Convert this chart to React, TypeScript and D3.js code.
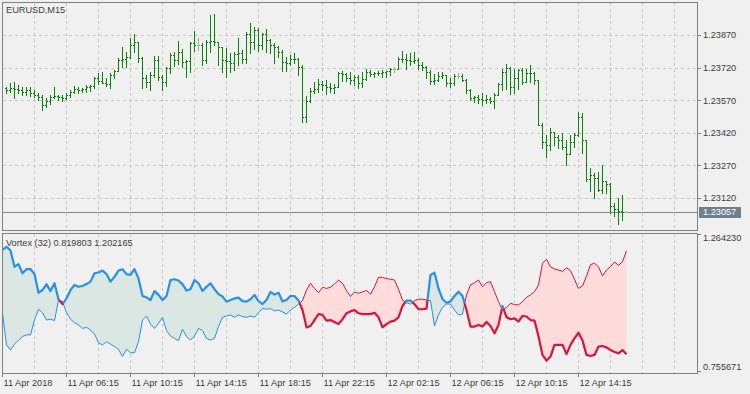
import * as d3 from 'd3';
import React from 'react';

const SYMBOL = 'EURUSD,M15';
const VORTEX_PERIOD = 32;

// bars start at slot 1 (slot 0 sits under the frame); open = previous close
const FIRST_OPEN = 1.23625;
const HIGH = [
  1.23629, 1.23651, 1.23655, 1.2364, 1.23629, 1.23632, 1.23629, 1.23617, 1.23602, 1.23594,
  1.23579, 1.23594, 1.23629, 1.23594, 1.23594, 1.23602, 1.23617, 1.23635, 1.23629, 1.23625,
  1.2364, 1.2364, 1.23678, 1.23697, 1.23701, 1.23671, 1.23694, 1.23709, 1.23763, 1.23813,
  1.23793, 1.23855, 1.23875, 1.23839, 1.23767, 1.23686, 1.23701, 1.23773, 1.23773, 1.23686,
  1.23724, 1.23786, 1.23793, 1.23844, 1.23804, 1.23755, 1.23839, 1.2389, 1.23855, 1.23835,
  1.23847, 1.23962, 1.23967, 1.23839, 1.23813, 1.23809, 1.23786, 1.23793, 1.23855, 1.23801,
  1.23885, 1.23927, 1.23908, 1.23901, 1.23881, 1.23896, 1.2385, 1.23835, 1.23819, 1.23801,
  1.2377, 1.23778, 1.23786, 1.23763, 1.23732, 1.23589, 1.23625, 1.23655, 1.23666, 1.2366,
  1.23663, 1.23648, 1.23645, 1.23701, 1.23706, 1.23694, 1.23701, 1.23686, 1.23686, 1.23701,
  1.23712, 1.23709, 1.23701, 1.23706, 1.23709, 1.23706, 1.23717, 1.23721, 1.2377, 1.23798,
  1.23783, 1.23789, 1.23793, 1.23763, 1.23747, 1.23727, 1.23709, 1.23691, 1.23701, 1.23701,
  1.23686, 1.23671, 1.23691, 1.23694, 1.23691, 1.23666, 1.2362, 1.23589, 1.23594, 1.23605,
  1.23594, 1.23583, 1.23605, 1.23651, 1.23712, 1.23737, 1.23721, 1.23712, 1.23712, 1.23717,
  1.23712, 1.23732, 1.23701, 1.23663, 1.23464, 1.2341, 1.23441, 1.23425, 1.2341, 1.23421,
  1.23387, 1.2341, 1.23421, 1.23517, 1.23513, 1.23387, 1.23257, 1.23234, 1.23241, 1.23272,
  1.23196, 1.23188, 1.23096, 1.23119, 1.23134, 1.23059,
];
const LOW = [
  1.23605, 1.23609, 1.23579, 1.23602, 1.23594, 1.23594, 1.23589, 1.23583, 1.23571, 1.23525,
  1.2354, 1.23553, 1.23579, 1.23571, 1.23568, 1.23574, 1.23583, 1.23605, 1.23602, 1.23609,
  1.23609, 1.23614, 1.23625, 1.23645, 1.23648, 1.23635, 1.23625, 1.23671, 1.23706, 1.23724,
  1.23724, 1.23763, 1.23793, 1.23747, 1.23625, 1.23632, 1.23617, 1.23678, 1.23663, 1.23617,
  1.23635, 1.23694, 1.23727, 1.23737, 1.23724, 1.23678, 1.23701, 1.23798, 1.23801, 1.23732,
  1.2374, 1.23793, 1.23824, 1.23732, 1.23701, 1.23678, 1.23701, 1.23709, 1.23732, 1.2374,
  1.23743, 1.23789, 1.23804, 1.23798, 1.23804, 1.23793, 1.23786, 1.23743, 1.2377, 1.23706,
  1.23706, 1.23732, 1.2374, 1.23686, 1.23471, 1.23471, 1.23563, 1.23602, 1.23609, 1.23617,
  1.23599, 1.23609, 1.23602, 1.23632, 1.2366, 1.2366, 1.23645, 1.2364, 1.23625, 1.23629,
  1.23663, 1.23681, 1.23678, 1.23686, 1.23678, 1.23678, 1.23686, 1.23701, 1.23712, 1.23747,
  1.23712, 1.23732, 1.2374, 1.23712, 1.23709, 1.23671, 1.23645, 1.23645, 1.2366, 1.23671,
  1.23635, 1.23632, 1.2364, 1.23671, 1.2366, 1.23602, 1.23571, 1.23563, 1.23559, 1.23548,
  1.23556, 1.23556, 1.23533, 1.23594, 1.23617, 1.2362, 1.23599, 1.23602, 1.2362, 1.23645,
  1.23655, 1.23655, 1.23645, 1.23456, 1.23349, 1.2331, 1.23341, 1.23364, 1.23349, 1.23344,
  1.23272, 1.23323, 1.23353, 1.23406, 1.23326, 1.232, 1.2315, 1.23119, 1.2315, 1.23145,
  1.23145, 1.23053, 1.23035, 1.23001, 1.23019, 1.23057,
];
const CLOSE = [
  1.23617, 1.23625, 1.2362, 1.23617, 1.23609, 1.23617, 1.23605, 1.23594, 1.23583, 1.23548,
  1.23568, 1.23583, 1.23589, 1.23583, 1.23579, 1.23594, 1.23609, 1.2362, 1.23617, 1.2362,
  1.23629, 1.23635, 1.23671, 1.2366, 1.23648, 1.23645, 1.23686, 1.23706, 1.23755, 1.23758,
  1.2377, 1.23824, 1.23839, 1.23763, 1.23671, 1.23655, 1.23686, 1.23755, 1.23678, 1.23655,
  1.23717, 1.23778, 1.23755, 1.23793, 1.23747, 1.2375, 1.23832, 1.23824, 1.23824, 1.23755,
  1.23839, 1.23843, 1.23836, 1.23813, 1.23755, 1.23752, 1.2374, 1.23783, 1.23786, 1.23758,
  1.23875, 1.23839, 1.23893, 1.23824, 1.23875, 1.23847, 1.23824, 1.23816, 1.23793, 1.23747,
  1.23743, 1.23758, 1.23761, 1.23724, 1.23494, 1.23568, 1.23614, 1.2362, 1.23645, 1.2364,
  1.23629, 1.23625, 1.23632, 1.23694, 1.23691, 1.23671, 1.23663, 1.23678, 1.23648, 1.23666,
  1.23701, 1.23691, 1.23697, 1.23694, 1.23701, 1.23704, 1.23712, 1.23712, 1.23758, 1.23761,
  1.23755, 1.23752, 1.23755, 1.23732, 1.23724, 1.23701, 1.2366, 1.23663, 1.23681, 1.23686,
  1.23651, 1.23648, 1.23683, 1.23683, 1.23663, 1.23617, 1.23579, 1.23583, 1.23574, 1.23571,
  1.23574, 1.23568, 1.23594, 1.23645, 1.23701, 1.23717, 1.23629, 1.23671, 1.23709, 1.23655,
  1.23694, 1.23697, 1.23663, 1.23456, 1.23379, 1.23364, 1.23425, 1.23402, 1.23387, 1.23353,
  1.23323, 1.23379, 1.2341, 1.23491, 1.23387, 1.23206, 1.23226, 1.23211, 1.23157, 1.232,
  1.23185, 1.23081, 1.23068, 1.23058, 1.23057, 1.23057,
];

// Vortex values, slot 0 .. 156
const VI_PLUS = [
  1.205, 1.217, 1.203, 1.143, 1.153, 1.119, 1.134, 1.134, 1.116, 1.047,
  1.057, 1.079, 1.053, 1.082, 1.023, 1.005, 1.026, 1.057, 1.076, 1.069,
  1.072, 1.079, 1.088, 1.119, 1.122, 1.129, 1.116, 1.088, 1.106, 1.129,
  1.134, 1.116, 1.113, 1.134, 1.1, 1.035, 1.03, 1.02, 1.053, 1.039,
  1.02, 1.035, 1.094, 1.097, 1.092, 1.079, 1.055, 1.06, 1.094, 1.082,
  1.053, 1.069, 1.082, 1.06, 1.042, 1.033, 1.014, 1.02, 1.026, 1.029,
  1.016, 1.014, 1.023, 1.039, 1.016, 1.005, 1.02, 1.05, 1.04, 1.047,
  1.015, 1.02, 1.035, 1.035, 1.018, 0.983, 0.919, 0.924, 0.946, 0.968,
  0.965, 0.944, 0.946, 0.939, 0.931, 0.949, 0.971, 0.978, 0.983, 0.971,
  0.968, 0.968, 0.968, 0.973, 0.956, 0.919, 0.931, 0.94, 0.944, 0.956,
  0.998, 1.018, 1.018, 1.005, 0.986, 0.986, 0.988, 1.113, 1.121, 1.063,
  1.023, 1.01, 1.015, 1.035, 1.051, 1.035, 0.983, 0.922, 0.922, 0.928,
  0.922, 0.939, 0.924, 0.897, 0.928, 0.998, 0.956, 0.949, 0.952, 0.94,
  0.961, 0.959, 0.946, 0.944, 0.885, 0.817, 0.796, 0.811, 0.854, 0.854,
  0.854, 0.82, 0.854, 0.878, 0.899, 0.87, 0.817, 0.813, 0.817, 0.848,
  0.85, 0.845, 0.835, 0.828, 0.823, 0.835, 0.819803,
];
const VI_MINUS = [
  0.971, 0.854, 0.835, 0.857, 0.872, 0.885, 0.891, 0.891, 0.946, 0.986,
  0.973, 0.946, 0.949, 0.944, 1.02, 1.014, 0.973, 0.949, 0.936, 0.928,
  0.915, 0.919, 0.909, 0.894, 0.862, 0.854, 0.866, 0.857, 0.848, 0.838,
  0.811, 0.838, 0.825, 0.825, 0.866, 0.946, 0.961, 0.931, 0.915, 0.934,
  0.956, 0.907, 0.887, 0.878, 0.87, 0.912, 0.885, 0.872, 0.887, 0.915,
  0.907, 0.878, 0.872, 0.878, 0.922, 0.956, 0.961, 0.965, 0.956, 0.965,
  0.959, 0.956, 0.961, 0.956, 0.973, 0.989, 0.986, 0.988, 0.98, 0.983,
  0.976, 0.968, 0.983, 0.993, 1.005, 1.018, 1.057, 1.082, 1.063, 1.047,
  1.067, 1.063, 1.067, 1.079, 1.094, 1.082, 1.055, 1.033, 1.05, 1.045,
  1.05, 1.055, 1.042, 1.069, 1.104, 1.104, 1.099, 1.097, 1.094, 1.06,
  1.02, 1.01, 1.005, 1.018, 1.023, 1.023, 1.02, 1.018, 0.924, 0.965,
  0.993, 1.005, 1.005, 0.983, 0.965, 0.968, 1.039, 1.076, 1.084, 1.094,
  1.069, 1.084, 1.088, 1.051, 1.014, 0.983, 0.993, 1.008, 1.003, 1.002,
  1.014, 1.03, 1.039, 1.051, 1.076, 1.156, 1.171, 1.143, 1.135, 1.131,
  1.126, 1.139, 1.129, 1.097, 1.063, 1.072, 1.109, 1.151, 1.156, 1.143,
  1.109, 1.131, 1.143, 1.161, 1.148, 1.162, 1.202165,
];

const PRICE_TICKS = [1.2387, 1.2372, 1.2357, 1.2342, 1.2327, 1.2312];
const LAST_PRICE = 1.23057;
const VI_MIN = 0.755671;
const VI_MAX = 1.26423;
const X_LABELS = [
  '11 Apr 2018', '11 Apr 06:15', '11 Apr 10:15', '11 Apr 14:15', '11 Apr 18:15',
  '11 Apr 22:15', '12 Apr 02:15', '12 Apr 06:15', '12 Apr 10:15', '12 Apr 14:15',
];

const W = 750;
const H = 394;
const LEFT = 2;
const RIGHT = 697;
const MAIN_TOP = 2;
const MAIN_BOTTOM = 230;
const IND_TOP = 233;
const IND_BOTTOM = 373;

const BG = '#f0f0f0';
const FRAME = '#808080';
const GRID = '#c6c6c6';
const TEXT = '#3c3c3c';
const BAR = '#0a840a';
const DOJI = '#a8a8a8';
const BULL = '#2a8fe6';
const BEAR = '#dc143c';
const BULL_FILL = '#dae7e2';
const BEAR_FILL = '#ffdcdc';
const FONT = '"Liberation Sans", Arial, sans-serif';
const FS = 9.2;

type VPoint = { x: number; a: number; b: number };

const App: React.FC = () => {
  const xScale = d3.scaleLinear().domain([0, 1]).range([LEFT, LEFT + 4]);
  const yPrice = d3.scaleLinear().domain([1.2312, 1.2387]).range([198, 35]);
  const yInd = d3.scaleLinear().domain([VI_MIN, VI_MAX]).range([371.5, 234]);

  const bars = CLOSE.map((c, k) => ({
    slot: k + 1,
    open: k === 0 ? FIRST_OPEN : CLOSE[k - 1],
    high: HIGH[k],
    low: LOW[k],
    close: c,
  }));

  // vortex points with crossing points inserted
  const pts: VPoint[] = [];
  VI_PLUS.forEach((a, i) => {
    const b = VI_MINUS[i];
    pts.push({ x: i, a, b });
    if (i < VI_PLUS.length - 1) {
      const a1 = VI_PLUS[i + 1];
      const b1 = VI_MINUS[i + 1];
      const d0 = a - b;
      const d1 = a1 - b1;
      if (d0 * d1 < 0) {
        const t = d0 / (d0 - d1);
        const v = a + t * (a1 - a);
        pts.push({ x: i + t, a: v, b: v });
      }
    }
  });

  // split into runs of one state
  const runs: { bull: boolean; pts: VPoint[] }[] = [];
  for (let k = 0; k < pts.length - 1; k++) {
    const p = pts[k];
    const q = pts[k + 1];
    const bull = p.a + q.a - p.b - q.b >= 0;
    const last = runs[runs.length - 1];
    if (last && last.bull === bull) last.pts.push(q);
    else runs.push({ bull, pts: [p, q] });
  }

  const bullArea = d3
    .area<VPoint>()
    .x((p) => xScale(p.x) + 0.5)
    .y0((p) => yInd(p.b))
    .y1((p) => yInd(Math.max(p.a, p.b)));
  const bearArea = d3
    .area<VPoint>()
    .x((p) => xScale(p.x) + 0.5)
    .y0((p) => yInd(p.a))
    .y1((p) => yInd(Math.max(p.a, p.b)));
  const lineA = d3
    .line<VPoint>()
    .x((p) => xScale(p.x) + 0.5)
    .y((p) => yInd(p.a));
  const lineB = d3
    .line<VPoint>()
    .x((p) => xScale(p.x) + 0.5)
    .y((p) => yInd(p.b));

  const gridX = d3.range(1, 22).map((k) => Math.round(xScale(k * 8)) + 0.5);
  const labelSlots = X_LABELS.map((_, k) => k * 16);
  const lastY = yPrice(LAST_PRICE);

  const textStyle = { fontFamily: FONT, fontSize: FS, fill: TEXT };

  return (
    <svg
      width={W}
      height={H}
      style={{ position: 'absolute', left: 0, top: 0, background: BG }}
    >
      <defs>
        <clipPath id="mainClip">
          <rect x={LEFT + 1} y={MAIN_TOP + 1} width={RIGHT - LEFT - 1} height={MAIN_BOTTOM - MAIN_TOP - 1} />
        </clipPath>
        <clipPath id="indClip">
          <rect x={LEFT + 1} y={IND_TOP + 1} width={RIGHT - LEFT - 1} height={IND_BOTTOM - IND_TOP - 1} />
        </clipPath>
      </defs>
      <rect x={0} y={0} width={W} height={H} fill={BG} />

      {/* grid */}
      <g stroke={GRID} strokeWidth={1} strokeDasharray="3,3" shapeRendering="crispEdges">
        {gridX.map((x) => (
          <line key={'m' + x} x1={x} x2={x} y1={MAIN_TOP + 1} y2={MAIN_BOTTOM} />
        ))}
        {gridX.map((x) => (
          <line key={'i' + x} x1={x} x2={x} y1={IND_TOP + 1} y2={IND_BOTTOM} />
        ))}
        {PRICE_TICKS.map((p) => (
          <line key={p} x1={LEFT + 1} x2={RIGHT} y1={Math.round(yPrice(p)) + 0.5} y2={Math.round(yPrice(p)) + 0.5} />
        ))}
      </g>

      {/* price bars */}
      <g clipPath="url(#mainClip)" shapeRendering="crispEdges">
        <line
          x1={LEFT}
          x2={RIGHT}
          y1={Math.round(lastY) + 0.5}
          y2={Math.round(lastY) + 0.5}
          stroke="#8a8a8a"
          strokeWidth={1}
        />
        {bars.map((b) => {
          const x = Math.round(xScale(b.slot));
          const doji = Math.abs(b.open - b.close) < 1e-7;
          const col = doji ? DOJI : BAR;
          const yH = Math.round(yPrice(b.high));
          const yL = Math.round(yPrice(b.low));
          const yO = Math.round(yPrice(b.open));
          const yC = Math.round(yPrice(b.close));
          return (
            <g key={b.slot} fill={col}>
              <rect x={x} y={yH} width={1} height={Math.max(1, yL - yH + 1)} />
              <rect x={x - 1} y={yO} width={1} height={1} />
              <rect x={x + 1} y={yC} width={1} height={1} />
            </g>
          );
        })}
      </g>

      {/* vortex */}
      <g clipPath="url(#indClip)">
        <path d={bullArea(pts) ?? ''} fill={BULL_FILL} />
        <path d={bearArea(pts) ?? ''} fill={BEAR_FILL} />
        {runs.map((r, k) => (
          <path
            key={'b' + k}
            d={lineB(r.pts) ?? ''}
            fill="none"
            stroke={r.bull ? BULL : BEAR}
            strokeWidth={1}
          />
        ))}
        {runs.map((r, k) => (
          <path
            key={'a' + k}
            d={lineA(r.pts) ?? ''}
            fill="none"
            stroke={r.bull ? BULL : BEAR}
            strokeWidth={2.2}
            strokeLinejoin="round"
          />
        ))}
      </g>

      {/* frames */}
      <g fill="none" stroke={FRAME} strokeWidth={1} shapeRendering="crispEdges">
        <rect x={LEFT + 0.5} y={MAIN_TOP + 0.5} width={RIGHT - LEFT} height={MAIN_BOTTOM - MAIN_TOP} />
        <rect x={LEFT + 0.5} y={IND_TOP + 0.5} width={RIGHT - LEFT} height={IND_BOTTOM - IND_TOP} />
      </g>

      {/* price axis */}
      <g shapeRendering="crispEdges" stroke={FRAME}>
        {PRICE_TICKS.map((p) => (
          <line key={p} x1={RIGHT + 1} x2={RIGHT + 4} y1={Math.round(yPrice(p)) + 0.5} y2={Math.round(yPrice(p)) + 0.5} />
        ))}
        <line x1={RIGHT + 1} x2={RIGHT + 4} y1={IND_TOP + 1.5} y2={IND_TOP + 1.5} />
        <line x1={RIGHT + 1} x2={RIGHT + 4} y1={IND_BOTTOM - 1.5} y2={IND_BOTTOM - 1.5} />
        {labelSlots.map((s) => {
          const x = Math.round(xScale(s)) + 0.5;
          return <line key={s} x1={x} x2={x} y1={IND_BOTTOM + 1} y2={IND_BOTTOM + 4} />;
        })}
      </g>
      {PRICE_TICKS.map((p) => (
        <text key={p} x={RIGHT + 6} y={yPrice(p) + 3.3} style={textStyle}>
          {p.toFixed(5)}
        </text>
      ))}
      <rect x={RIGHT + 2} y={Math.round(lastY) - 5} width={42} height={11} fill="#6f7f8f" />
      <text x={RIGHT + 6} y={lastY + 3.6} style={{ ...textStyle, fill: '#ffffff' }}>
        {LAST_PRICE.toFixed(5)}
      </text>
      <text x={RIGHT + 6} y={IND_TOP + 7.8} style={textStyle}>
        {VI_MAX.toFixed(6)}
      </text>
      <text x={RIGHT + 6} y={IND_BOTTOM - 2.6} style={textStyle}>
        {VI_MIN.toFixed(6)}
      </text>

      {/* time axis */}
      {X_LABELS.map((l, k) => (
        <text key={l} x={Math.round(xScale(labelSlots[k])) + 1.5} y={386} style={textStyle}>
          {l}
        </text>
      ))}

      {/* titles */}
      <text x={6} y={12.7} style={textStyle}>
        {SYMBOL}
      </text>
      <text x={6} y={245.7} style={textStyle}>
        {`Vortex (${VORTEX_PERIOD}) ${VI_PLUS[VI_PLUS.length - 1].toFixed(6)} ${VI_MINUS[VI_MINUS.length - 1].toFixed(6)}`}
      </text>
    </svg>
  );
};

export default App;
